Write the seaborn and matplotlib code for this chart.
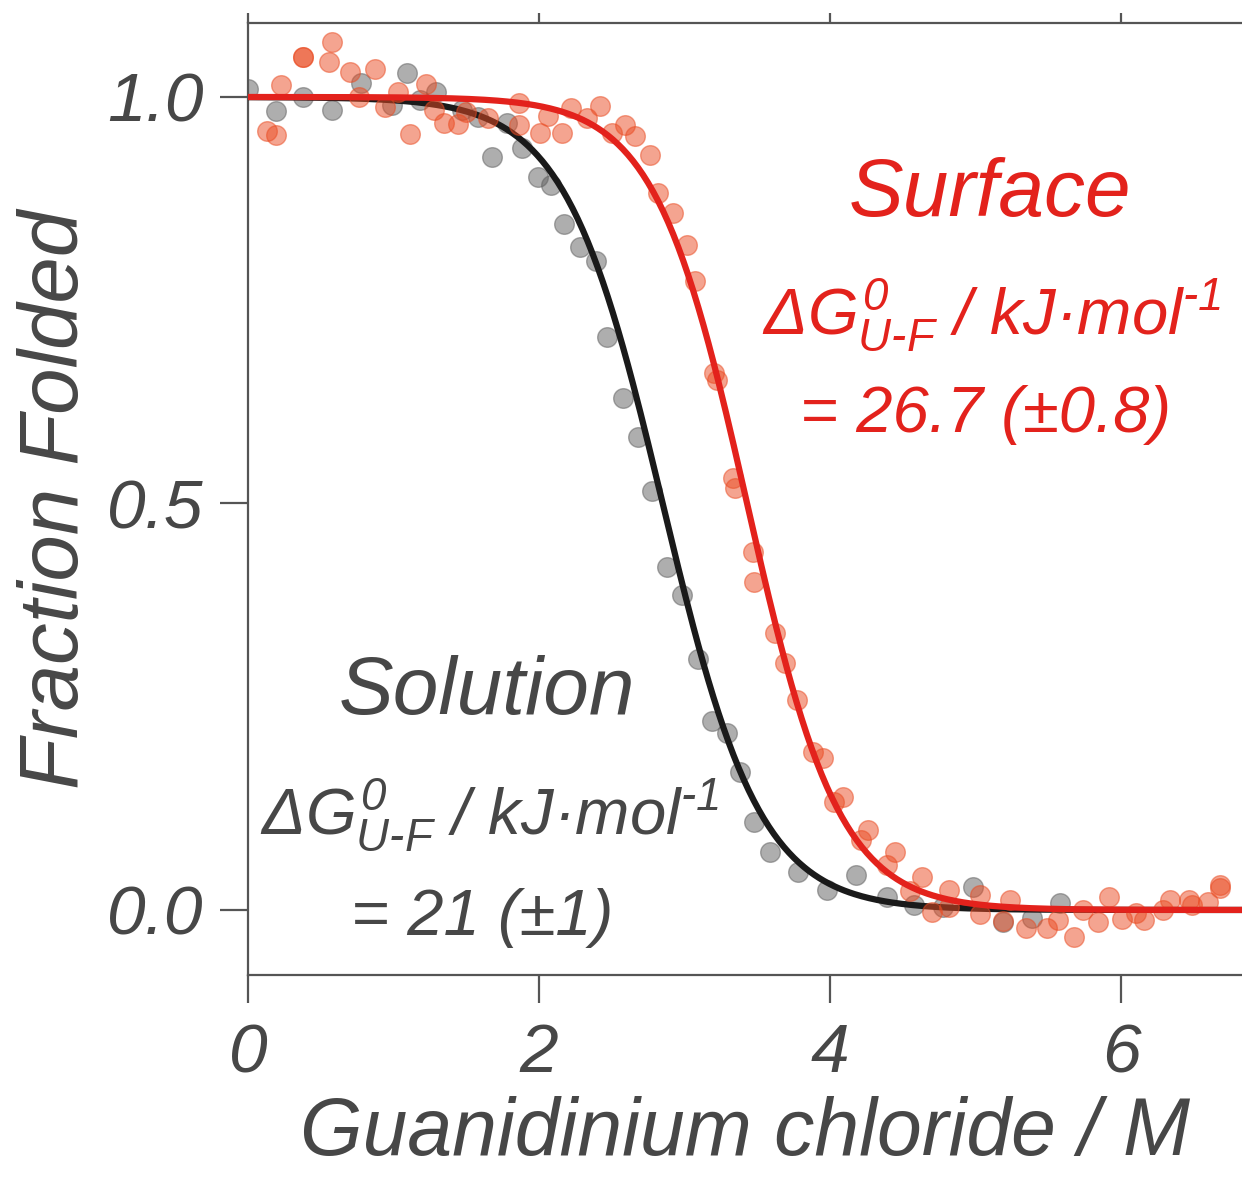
import numpy as np
import pandas as pd
import seaborn as sns
import matplotlib.pyplot as plt

# solution (grey) data points: [GdnHCl] / M and fraction folded
sol_x = [0.00, 0.19, 0.38, 0.58, 0.78, 0.99, 1.09, 1.18, 1.29, 1.47, 1.58, 1.68,
         1.78, 1.88, 1.99, 2.08, 2.17, 2.28, 2.39, 2.47, 2.58, 2.68, 2.78, 2.88,
         2.98, 3.09, 3.19, 3.29, 3.38, 3.48, 3.59, 3.78, 3.98, 4.18, 4.39, 4.58,
         4.78, 4.98, 5.19, 5.39, 5.58]
sol_y = [1.010, 0.983, 1.000, 0.984, 1.017, 0.990, 1.030, 0.996, 1.006, 0.984, 0.975, 0.926,
         0.968, 0.937, 0.902, 0.892, 0.844, 0.815, 0.798, 0.705, 0.630, 0.582, 0.515, 0.422,
         0.387, 0.309, 0.232, 0.218, 0.170, 0.108, 0.071, 0.047, 0.025, 0.043, 0.016, 0.006,
         0.004, 0.028, -0.015, -0.010, 0.009]

# surface (red) data points
surf_x = [0.13, 0.19, 0.23, 0.38, 0.38, 0.56, 0.58, 0.70, 0.76, 0.87, 0.94, 1.03,
          1.11, 1.22, 1.28, 1.35, 1.44, 1.50, 1.65, 1.86, 1.86, 2.01, 2.06, 2.16,
          2.22, 2.33, 2.42, 2.50, 2.59, 2.66, 2.76, 2.82, 2.92, 3.02, 3.07, 3.20,
          3.22, 3.33, 3.35, 3.47, 3.48, 3.62, 3.69, 3.77, 3.88, 3.95, 4.03, 4.09,
          4.21, 4.26, 4.39, 4.45, 4.55, 4.63, 4.70, 4.82, 4.82, 5.03, 5.03, 5.19,
          5.24, 5.35, 5.49, 5.57, 5.68, 5.74, 5.84, 5.92, 6.01, 6.10, 6.16, 6.29,
          6.34, 6.47, 6.49, 6.60, 6.68, 6.68]
surf_y = [0.958, 0.953, 1.015, 1.049, 1.049, 1.043, 1.068, 1.031, 1.000, 1.034, 0.988, 1.006,
          0.954, 1.016, 0.984, 0.968, 0.967, 0.982, 0.974, 0.993, 0.966, 0.956, 0.977, 0.956,
          0.986, 0.974, 0.989, 0.956, 0.966, 0.952, 0.929, 0.882, 0.857, 0.818, 0.774, 0.661,
          0.652, 0.531, 0.519, 0.440, 0.403, 0.341, 0.304, 0.258, 0.194, 0.187, 0.133, 0.139,
          0.086, 0.098, 0.055, 0.071, 0.023, 0.041, -0.002, 0.025, 0.004, 0.018, -0.005, -0.014,
          0.012, -0.022, -0.022, -0.012, -0.033, 0.000, -0.015, 0.016, -0.011, -0.004, -0.012, 0.000,
          0.012, 0.012, 0.006, 0.010, 0.027, 0.031]

# two-state fit parameters (dG in kJ/mol, midpoint in M)
RT = 2.479
fit_dG = {'Solution': 21.0, 'Surface': 26.7}
fit_mid = {'Solution': 2.85, 'Surface': 3.43}

GREY_TXT = '#474747'
RED = '#e3221c'

sns.set_style('ticks')
plt.rcParams['font.family'] = ['Liberation Sans', 'DejaVu Sans']
plt.rcParams['font.style'] = 'italic'
plt.rcParams['mathtext.fontset'] = 'custom'
plt.rcParams['mathtext.rm'] = 'Liberation Sans:italic'
plt.rcParams['mathtext.it'] = 'Liberation Sans:italic'
plt.rcParams['mathtext.default'] = 'it'

pts = pd.concat([
    pd.DataFrame({'gdn': sol_x, 'frac': sol_y, 'sample': 'Solution'}),
    pd.DataFrame({'gdn': surf_x, 'frac': surf_y, 'sample': 'Surface'}),
])

grid = np.linspace(0, 6.9, 400)
curves = []
for k in ['Solution', 'Surface']:
    m = fit_dG[k] / fit_mid[k]
    f = 1.0 / (1.0 + np.exp(-(fit_dG[k] - m * grid) / RT))
    curves.append(pd.DataFrame({'gdn': grid, 'frac': f, 'sample': k}))
curves = pd.concat(curves)

fig = plt.figure(figsize=(12.42, 11.8), dpi=100)
ax = fig.add_axes([248 / 1242, 1 - 975 / 1180, 1 - 248 / 1242, (975 - 23) / 1180])

sns.scatterplot(data=pts[pts['sample'] == 'Solution'], x='gdn', y='frac', ax=ax,
                color='#5e5e5e', alpha=0.5, s=200, edgecolor='#5e5e5e', linewidth=1,
                legend=False, zorder=2)
sns.lineplot(data=curves[curves['sample'] == 'Solution'], x='gdn', y='frac', ax=ax,
             color='#1a1a1a', lw=4.5, legend=False, zorder=3)
sns.scatterplot(data=pts[pts['sample'] == 'Surface'], x='gdn', y='frac', ax=ax,
                color='#ea4b22', alpha=0.5, s=200, edgecolor='#ea4b22', linewidth=1,
                legend=False, zorder=4)
sns.lineplot(data=curves[curves['sample'] == 'Surface'], x='gdn', y='frac', ax=ax,
             color=RED, lw=4.5, legend=False, zorder=5)

ax.set_xlim(0, (1242 - 248) / 145.5)
ax.set_ylim(-0.080, 1.091)
ax.set_xticks([0, 2, 4, 6])
ax.set_xticklabels(['0', '2', '4', '6'])
ax.set_yticks([0, 0.5, 1.0])
ax.set_yticklabels(['0.0', '0.5', '1.0'])

for s in ['left', 'top', 'bottom']:
    ax.spines[s].set_color('#555555')
    ax.spines[s].set_linewidth(1.6)
ax.spines['right'].set_visible(False)

ax.tick_params(axis='both', colors='#555555', labelcolor=GREY_TXT, labelsize=50,
               width=1.6, length=20, pad=12)
ax.tick_params(axis='x', top=True, labeltop=False)
ax.tick_params(axis='x', which='major', pad=14)
for t in ax.xaxis.get_major_ticks():
    t.tick2line.set_markersize(7)

ax.set_xlabel('Guanidinium chloride / M', fontsize=58, color=GREY_TXT, labelpad=7)
ax.set_ylabel('Fraction Folded', fontsize=60, color=GREY_TXT, labelpad=9)

# annotations
dg_txt = r'$\Delta G^{0}_{\text{U-F}}$ / kJ·mol$^{\text{-}1}$'
ax.text(5.10, 0.879, 'Surface', color=RED, fontsize=59, ha='center', va='center')
ax.text(5.11, 0.732, dg_txt, color=RED, fontsize=47, ha='center', va='center')
ax.text(5.07, 0.609, '= 26.7 (±0.8)', color=RED, fontsize=47, ha='center', va='center')
ax.text(1.64, 0.267, 'Solution', color=GREY_TXT, fontsize=59, ha='center', va='center')
ax.text(1.66, 0.117, dg_txt, color=GREY_TXT, fontsize=47, ha='center', va='center')
ax.text(1.61, -0.010, '= 21 (±1)', color=GREY_TXT, fontsize=47, ha='center', va='center')

fig.savefig('out.png', dpi=100)
